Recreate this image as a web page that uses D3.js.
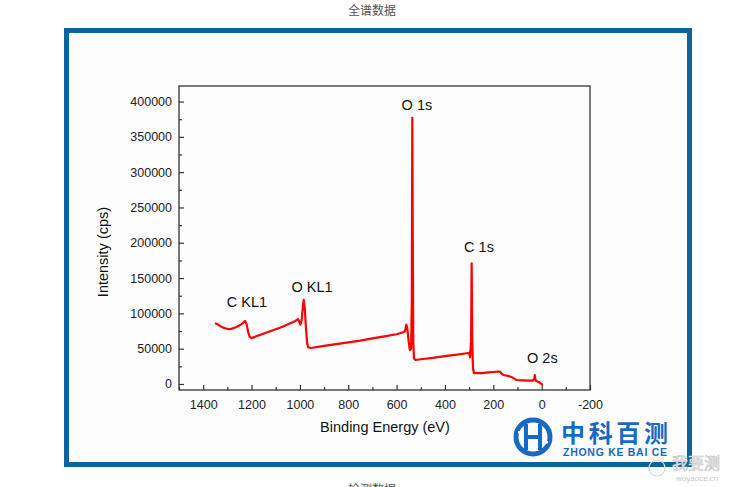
<!DOCTYPE html>
<html>
<head>
<meta charset="utf-8">
<script src="https://cdn.jsdelivr.net/npm/d3@7"></script>
<style>
  body { margin: 0; background: #fff; }
  svg { display: block; font-family: "Liberation Sans", Arial, sans-serif; }
</style>
</head>
<body>
<svg id="chart" width="743" height="487"></svg>
<script>
// XPS survey spectrum: binding energy (eV) vs intensity (cps)
const energy = [1351, 1340, 1325, 1310, 1295, 1280, 1265, 1250, 1238, 1230, 1226, 1220, 1214, 1208, 1200,
  1180, 1160, 1140, 1120, 1100, 1080, 1060, 1040, 1020, 1008, 1003, 998, 993, 988, 984, 980, 975, 970, 966,
  955, 900, 850, 800, 750, 700, 650, 600, 575, 565, 560, 556, 550, 545, 540, 537, 535, 533, 531, 528, 520,
  500, 450, 400, 350, 310, 300, 296, 292, 289.5, 287, 284, 280, 250, 220, 200, 180, 172, 165, 158, 140,
  125, 115, 104, 80, 50, 36, 30, 28, 26, 22, 15, 8, 3, -5];
const intensity = [86000, 84500, 81000, 79000, 77500, 78500, 80500, 83000, 85500, 88500, 89000, 84000, 74000, 67000, 65000,
  67500, 70000, 72500, 75000, 77500, 80000, 83000, 86000, 89000, 92000, 89000, 84000, 90000, 108000, 119000, 108000, 80000, 58000, 52000,
  51000, 54000, 56500, 59000, 61500, 64500, 67500, 70500, 73000, 75000, 84000, 80000, 60000, 48000, 50000, 120000, 377000, 200000, 60000, 36000, 34000,
  35000, 37000, 39500, 41500, 43500, 44000, 38000, 60000, 171000, 60000, 22000, 15500, 15500, 16500, 17000, 17500, 17500, 14500, 12800, 11500,
  10000, 8000, 5700, 5200, 4800, 4700, 8000, 12700, 6000, 4200, 3300, 2000, 500, -1000];

const peakNames = ["C KL1", "O KL1", "O 1s", "C 1s", "O 2s"];
const peakEnergy = [1219, 950, 516, 259, -3];
const peakLabelValue = [109000, 130000, 388000, 187000, 30000];

const xMajor = [1400, 1200, 1000, 800, 600, 400, 200, 0, -200];
const xMinor = [1500, 1300, 1100, 900, 700, 500, 300, 100, -100];
const yMajor = [0, 50000, 100000, 150000, 200000, 250000, 300000, 350000, 400000];
const yMinor = [25000, 75000, 125000, 175000, 225000, 275000, 325000, 375000];

const svg = d3.select('#chart');

// page captions
svg.append('text')
    .attr('x', 372).attr('y', 15)
    .attr('text-anchor', 'middle')
    .style('font-family', '"Noto Sans CJK SC", sans-serif')
    .style('font-size', '12px')
    .style('fill', '#555')
    .text('全谱数据');

svg.append('text')
    .attr('x', 372).attr('y', 494)
    .attr('text-anchor', 'middle')
    .style('font-family', '"Noto Sans CJK SC", sans-serif')
    .style('font-size', '12px')
    .style('fill', '#555')
    .text('检测数据');

// blue frame
svg.append('rect')
    .attr('x', 66.5).attr('y', 30.5)
    .attr('width', 623).attr('height', 434)
    .style('fill', '#fdfdfd')
    .style('stroke', '#0d649c')
    .style('stroke-width', 5);

const x = d3.scaleLinear().domain([1500, -200]).range([179, 590]);
const y = d3.scaleLinear().domain([-8500, 422000]).range([390, 86]);

// minor ticks
svg.append('g')
    .attr('transform', 'translate(0,390)')
    .call(d3.axisBottom(x).tickValues(xMinor).tickSize(-3).tickFormat(''))
    .call(g => g.select('.domain').remove());
svg.append('g')
    .attr('transform', 'translate(179,0)')
    .call(d3.axisLeft(y).tickValues(yMinor).tickSize(-3).tickFormat(''))
    .call(g => g.select('.domain').remove());

// major ticks + labels
const xAxis = svg.append('g')
    .attr('transform', 'translate(0,390)')
    .call(d3.axisBottom(x).tickValues(xMajor).tickSize(-5).tickPadding(10).tickFormat(d => String(d)))
    .call(g => g.select('.domain').remove());
const yAxis = svg.append('g')
    .attr('transform', 'translate(179,0)')
    .call(d3.axisLeft(y).tickValues(yMajor).tickSize(-5).tickPadding(7).tickFormat(d => String(d)))
    .call(g => g.select('.domain').remove());

[xAxis, yAxis].forEach(g => {
    g.selectAll('text')
        .style('font-family', '"Liberation Sans", Arial, sans-serif')
        .style('font-size', '12.5px')
        .style('fill', '#222');
});
svg.selectAll('g line').style('stroke', '#333').style('stroke-width', 1.2);

// plot box
svg.append('rect')
    .attr('x', 179).attr('y', 86)
    .attr('width', 411).attr('height', 304)
    .style('fill', 'none')
    .style('stroke', '#333')
    .style('stroke-width', 1.3);

// spectrum
const spectrum = energy.map((e, i) => ({ e: e, v: intensity[i] }));
const line = d3.line()
    .x(d => x(d.e))
    .y(d => y(d.v));

svg.append('path')
    .datum(spectrum)
    .attr('d', line)
    .style('fill', 'none')
    .style('stroke', '#ff0000')
    .style('stroke-width', 2.2)
    .style('stroke-linejoin', 'round');

// peak labels
svg.selectAll('.peak-label')
    .data(peakNames)
    .enter().append('text')
    .attr('class', 'peak-label')
    .attr('x', (d, i) => x(peakEnergy[i]))
    .attr('y', (d, i) => y(peakLabelValue[i]))
    .attr('text-anchor', 'middle')
    .style('font-size', '14.5px')
    .style('fill', '#111')
    .text(d => d);

// axis titles
svg.append('text')
    .attr('transform', 'translate(108,252) rotate(-90)')
    .attr('text-anchor', 'middle')
    .style('font-size', '14.5px')
    .style('fill', '#111')
    .text('Intensity (cps)');

svg.append('text')
    .attr('x', 385).attr('y', 432)
    .attr('text-anchor', 'middle')
    .style('font-size', '14.5px')
    .style('fill', '#111')
    .text('Binding Energy (eV)');

// logo
const logo = svg.append('g').style('fill', '#1769c4').style('stroke', '#1769c4');
logo.append('circle')
    .attr('cx', 533).attr('cy', 437).attr('r', 17)
    .style('fill', 'none')
    .style('stroke-width', 5);
logo.append('rect').attr('x', 524).attr('y', 424).attr('width', 4).attr('height', 26).style('stroke', 'none');
logo.append('rect').attr('x', 538).attr('y', 424).attr('width', 4).attr('height', 26).style('stroke', 'none');
logo.append('rect').attr('x', 526).attr('y', 435).attr('width', 14).attr('height', 4).style('stroke', 'none');
logo.append('rect').attr('x', 518).attr('y', 431).attr('width', 6).attr('height', 2.5).style('fill', '#fdfdfd').style('stroke', 'none');
logo.append('rect').attr('x', 542).attr('y', 441).attr('width', 6).attr('height', 2.5).style('fill', '#fdfdfd').style('stroke', 'none');
logo.append('text')
    .attr('x', 561).attr('y', 442)
    .style('font-family', '"Noto Sans CJK SC", sans-serif')
    .style('font-weight', 'bold')
    .style('font-size', '24px')
    .style('stroke', 'none')
    .attr('textLength', 107)
    .text('中科百测');
logo.append('text')
    .attr('x', 563).attr('y', 456)
    .style('font-weight', 'bold')
    .style('font-size', '10.5px')
    .style('stroke', 'none')
    .attr('textLength', 104)
    .text('ZHONG KE BAI CE');

// watermark
svg.append('circle')
    .attr('cx', 657).attr('cy', 468).attr('r', 8)
    .style('fill', 'none')
    .style('stroke', '#d8d8d8')
    .style('stroke-width', 1.2);
svg.append('text')
    .attr('x', 672).attr('y', 469)
    .style('font-family', '"Noto Sans CJK SC", sans-serif')
    .style('font-size', '16px')
    .style('fill', '#f4f4f4')
    .style('stroke', '#c4c4c4')
    .style('stroke-width', 0.6)
    .text('我要测');
svg.append('text')
    .attr('x', 676).attr('y', 481)
    .style('font-size', '8px')
    .style('fill', '#c8c8c8')
    .text('woyaoce.cn');
</script>
</body>
</html>
